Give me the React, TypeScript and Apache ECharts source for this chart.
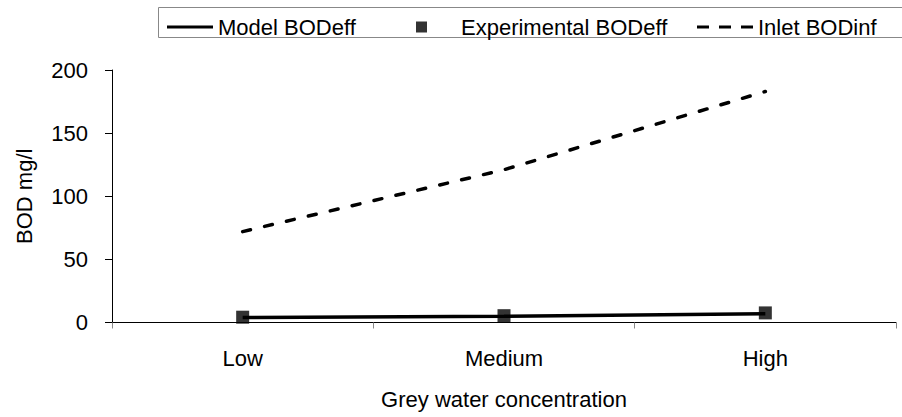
import React, { useEffect, useRef } from "react";
import * as echarts from "echarts";

const categories = ["Low", "Medium", "High"];
const modelBODeff = [4, 5, 7];
const experimentalBODeff = [4.2, 5.4, 7.6];
const inletBODinf = [72, 121, 183];
const yTicks = { min: 0, max: 200, interval: 50 };

const FONT = "Liberation Sans, Arial, sans-serif";
const FS = 22;

export default function App() {
  const ref = useRef<HTMLDivElement>(null);
  useEffect(() => {
    if (!ref.current) return;
    const chart = echarts.init(ref.current, null, { renderer: "svg" });
    const legendText = { fontSize: FS, fontFamily: FONT, color: "#000" };
    chart.setOption({
      animation: false,
      backgroundColor: "#fff",
      textStyle: { fontFamily: FONT, color: "#000" },
      grid: { left: 112, right: 6, top: 70, bottom: 94.5, containLabel: false },
      graphic: [
        {
          type: "rect",
          shape: { x: 158.5, y: 7.5, width: 760, height: 30 },
          style: { fill: "none", stroke: "#888", lineWidth: 1 },
          silent: true,
        },
      ],
      legend: [
        {
          data: [{ name: "Model BODeff", icon: "path://M0 0H46V3H0Z" }],
          left: 162,
          top: 11,
          itemWidth: 46,
          itemHeight: 3,
          textStyle: legendText,
        },
        {
          data: [{ name: "Experimental BODeff", icon: "rect" }],
          left: 411,
          top: 11,
          itemWidth: 11,
          itemHeight: 11,
          textStyle: { ...legendText, padding: [0, 0, 0, 29] },
        },
        {
          data: [{ name: "Inlet BODinf", icon: "path://M0 0H12V3H0Z M22 0H34V3H22Z M44 0H56V3H44Z" }],
          left: 692,
          top: 11,
          itemWidth: 56,
          itemHeight: 3,
          textStyle: legendText,
        },
      ],
      xAxis: {
        type: "category",
        data: categories,
        boundaryGap: true,
        name: "Grey water concentration",
        nameLocation: "middle",
        nameGap: 66,
        nameTextStyle: { fontSize: FS, fontFamily: FONT, color: "#000" },
        axisLine: { show: true, lineStyle: { color: "#000", width: 1 } },
        axisTick: { show: true, alignWithLabel: false, length: 6, inside: false, lineStyle: { color: "#888" } },
        axisLabel: { fontSize: FS, fontFamily: FONT, color: "#000", margin: 25 },
        splitLine: { show: false },
      },
      yAxis: {
        type: "value",
        min: yTicks.min,
        max: yTicks.max,
        interval: yTicks.interval,
        name: "BOD mg/l",
        nameLocation: "middle",
        nameGap: 77,
        nameRotate: 90,
        nameTextStyle: { fontSize: FS, fontFamily: FONT, color: "#000" },
        axisLine: { show: true, lineStyle: { color: "#000", width: 1 } },
        axisTick: { show: true, length: 7, lineStyle: { color: "#000" } },
        axisLabel: { fontSize: FS, fontFamily: FONT, color: "#000", margin: 24 },
        splitLine: { show: false },
      },
      series: [
        {
          name: "Model BODeff",
          type: "line",
          data: modelBODeff,
          symbol: "none",
          lineStyle: { color: "#000", width: 3.5 },
          itemStyle: { color: "#000" },
          z: 3,
        },
        {
          name: "Experimental BODeff",
          type: "scatter",
          data: experimentalBODeff,
          symbol: "rect",
          symbolSize: 13,
          itemStyle: { color: "#000" },
          z: 4,
        },
        {
          name: "Inlet BODinf",
          type: "line",
          data: inletBODinf,
          symbol: "none",
          lineStyle: { color: "#000", width: 3.5, type: [8, 14.5], cap: "round" },
          itemStyle: { color: "#000" },
          z: 3,
        },
      ],
    });
    return () => chart.dispose();
  }, []);
  return <div ref={ref} style={{ width: 902, height: 417, position: "absolute", left: 0, top: 0 }} />;
}
